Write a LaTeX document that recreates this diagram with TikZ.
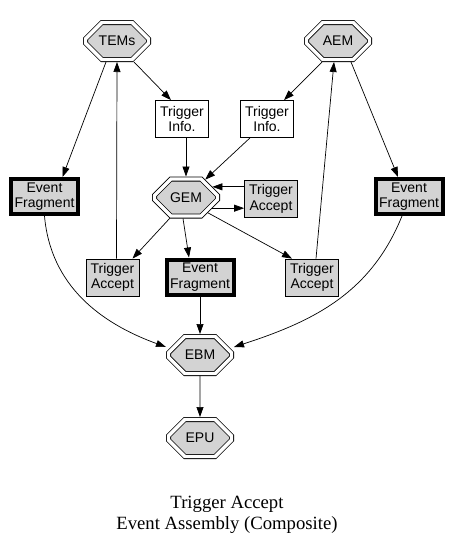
\documentclass[tikz,border=0pt]{standalone}
\usepackage{fontspec}
\setmainfont{Liberation Serif}
\setsansfont{Liberation Sans}
\usetikzlibrary{arrows.meta,shapes.misc}
\definecolor{cbox}{RGB}{211,211,211}

\begin{document}
\begin{tikzpicture}[x=1pt, y=-1pt,
  every node/.style={font=\sffamily\fontsize{14}{15.5}\selectfont, align=center, inner sep=0pt},
  octo/.style={chamfered rectangle, chamfered rectangle xsep=11.5pt,
    chamfered rectangle ysep=11.5pt, minimum width=63pt, minimum height=37pt,
    draw, fill=cbox, double, double distance=3.4pt, line width=0.8pt, outer sep=2.5pt},
  info/.style={draw, fill=white, line width=0.8pt, minimum width=53pt, minimum height=37pt},
  accept/.style={info, fill=cbox},
  frag/.style={draw, fill=cbox, line width=4pt, minimum width=67pt, minimum height=35pt},
  arr/.style={-{Triangle[length=10pt, width=7pt]}, line width=0.7pt}]
\useasboundingbox (0,0) rectangle (452,547);

% managers
\node[octo] (TEMs) at (117,41) {TEMs};
\node[octo] (AEM) at (338,41) {AEM};
\node[octo] (GEM) at (186,197.5) {GEM};
\node[octo] (EBM) at (200,355) {EBM};
\node[octo] (EPU) at (200,438) {EPU};

% messages
\node[info] (infoL) at (182,119) {Trigger\\Info.};
\node[info] (infoR) at (267,119) {Trigger\\Info.};
\node[accept] (accG) at (271,199) {Trigger\\Accept};
\node[accept] (accL) at (112.5,277.5) {Trigger\\Accept};
\node[accept] (accR) at (312,277.5) {Trigger\\Accept};
\node[frag] (fragL) at (44.5,196.5) {Event\\Fragment};
\node[frag] (fragR) at (409,196.5) {Event\\Fragment};
\node[frag] (fragM) at (200,277) {Event\\Fragment};

\draw[arr] ([xshift=-11pt]TEMs.south) -- ([xshift=18pt]fragL.north);
\draw[arr] ([xshift=17pt]TEMs.south) -- ([xshift=-11pt]infoL.north);
\draw[arr] ([xshift=4pt]accL.north) -- (TEMs.south);
\draw[arr] ([xshift=4pt]infoL.south) -- (GEM.north);
\draw[arr] ([xshift=-17pt]infoR.south) -- (GEM);
\draw[arr] ([xshift=-16pt]AEM.south) -- ([xshift=17pt]infoR.north);
\draw[arr] ([xshift=13pt]AEM.south) -- ([xshift=-11pt]fragR.north);
\draw[arr] ([xshift=4pt]accR.north) -- ([xshift=-4pt]AEM.south);
\draw[arr] (accG.west |- GEM.22) -- (GEM.22);
\draw[arr] (GEM.-22) -- (accG.west |- GEM.-22);
\draw[arr] (GEM.232) -- ([xshift=20pt]accL.north);
\draw[arr] ([xshift=-3pt]GEM.south) -- ([xshift=-11pt]fragM.north);
\draw[arr] (GEM.-35) -- ([xshift=-20pt]accR.north);
\draw[arr] (fragL.south) to[out=-85, in=160] ([yshift=8pt]EBM.west);
\draw[arr] ([xshift=-7pt]fragR.south) to[out=-112, in=18] ([yshift=8pt]EBM.east);
\draw[arr] (fragM) -- (EBM);
\draw[arr] (EBM) -- (EPU);

\node[font=\rmfamily\fontsize{18.7}{21.5}\selectfont] (caption) at (227,515)
  {Trigger Accept\\Event Assembly (Composite)};
\end{tikzpicture}
\end{document}
